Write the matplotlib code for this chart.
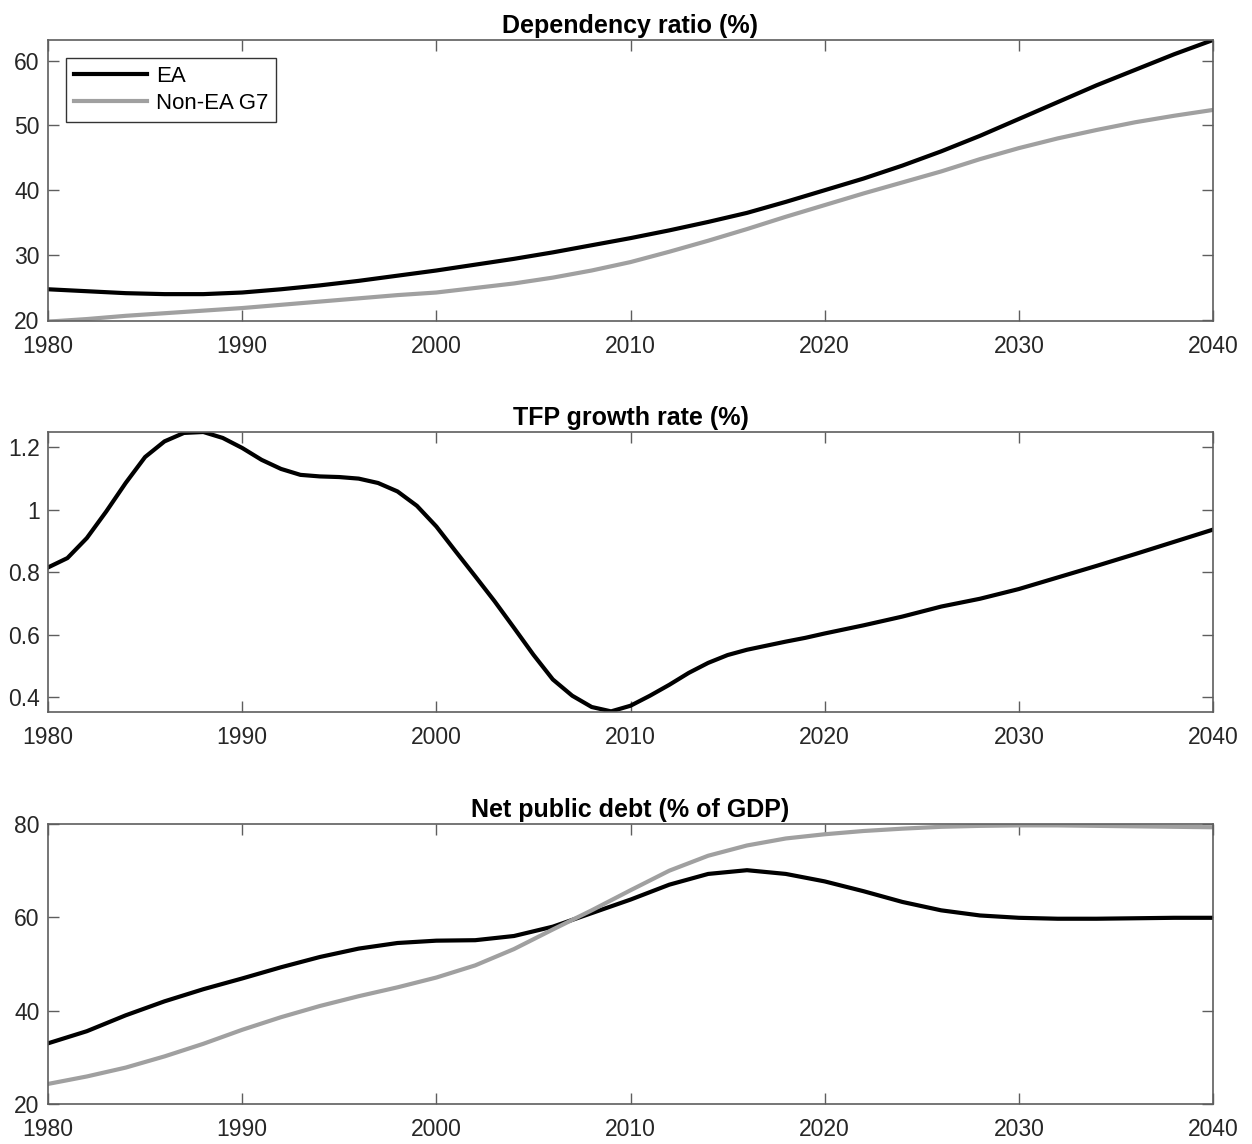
import matplotlib
matplotlib.use("Agg")
import matplotlib.pyplot as plt

plt.rcParams['font.family'] = ['Liberation Sans', 'DejaVu Sans']

# dependency ratio (%)
dep_years = list(range(1980, 2041, 2))
dep_ea = [24.7, 24.4, 24.1, 23.95, 23.95, 24.2, 24.7, 25.3, 26.0, 26.8,
          27.6, 28.5, 29.4, 30.4, 31.5, 32.6, 33.8, 35.1, 36.5, 38.2,
          40.0, 41.8, 43.8, 46.0, 48.4, 51.0, 53.6, 56.2, 58.6, 61.0, 63.2]
dep_non_ea = [19.7, 20.1, 20.6, 21.0, 21.4, 21.8, 22.3, 22.8, 23.3, 23.8,
              24.2, 24.9, 25.6, 26.5, 27.6, 28.9, 30.5, 32.2, 34.0, 35.9,
              37.7, 39.5, 41.2, 42.9, 44.8, 46.5, 48.0, 49.3, 50.5, 51.5, 52.4]

# TFP growth rate (%), EA only
tfp_years = list(range(1980, 2021)) + list(range(2022, 2041, 2))
tfp_ea = [0.815, 0.845, 0.909, 0.994, 1.085, 1.168, 1.218, 1.245, 1.248, 1.229,
          1.197, 1.159, 1.130, 1.111, 1.106, 1.104, 1.099, 1.085, 1.058, 1.012,
          0.946, 0.866, 0.787, 0.707, 0.622, 0.536, 0.457, 0.405, 0.369, 0.355,
          0.373, 0.405, 0.440, 0.478, 0.510, 0.535, 0.552, 0.565, 0.578, 0.590,
          0.604, 0.630, 0.658, 0.690, 0.715, 0.746, 0.783, 0.820, 0.858, 0.897, 0.936]

# net public debt (% of GDP)
debt_years = list(range(1980, 2041, 2))
debt_ea = [33.0, 35.6, 39.0, 42.0, 44.6, 46.9, 49.3, 51.5, 53.3, 54.5,
           55.0, 55.1, 56.0, 58.0, 60.9, 63.8, 67.0, 69.3, 70.1, 69.3,
           67.7, 65.6, 63.3, 61.5, 60.4, 59.9, 59.7, 59.7, 59.8, 59.9, 59.9]
debt_non_ea = [24.3, 25.9, 27.8, 30.2, 32.9, 35.9, 38.6, 41.0, 43.1, 45.0,
               47.1, 49.7, 53.2, 57.4, 61.5, 65.8, 70.0, 73.2, 75.4, 76.9,
               77.8, 78.5, 79.0, 79.4, 79.6, 79.7, 79.7, 79.6, 79.5, 79.4, 79.3]

BLACK = '#000000'
GREY = '#a0a0a0'
AX_COL = '#5e5e5e'
TXT_COL = '#262626'
LW = 3.0

fig = plt.figure(figsize=(12.52, 11.44), dpi=100)
left, width = 48 / 1252, (1213 - 48) / 1252
boxes = [(40, 321), (432, 712), (824, 1104)]
axes = []
for top, bottom in boxes:
    ax = fig.add_axes([left, 1 - bottom / 1144, width, (bottom - top) / 1144])
    axes.append(ax)


def style(ax, title):
    ax.set_xlim(1980, 2040)
    ax.set_xticks(range(1980, 2041, 10))
    ax.tick_params(direction='in', top=True, right=True, length=8, width=1.0,
                   color=AX_COL, labelcolor=TXT_COL, labelsize=16.5)
    ax.tick_params(axis='x', pad=10)
    ax.tick_params(axis='y', pad=6)
    for sp in ax.spines.values():
        sp.set_color(AX_COL)
        sp.set_linewidth(1.2)
    ax.set_title(title, fontsize=18, fontweight='bold', pad=5)


ax1, ax2, ax3 = axes

ax1.plot(dep_years, dep_ea, color=BLACK, lw=LW, label='EA')
ax1.plot(dep_years, dep_non_ea, color=GREY, lw=LW, label='Non-EA G7')
ax1.set_ylim(19.8, 63.2)
ax1.set_yticks([20, 30, 40, 50, 60])
style(ax1, 'Dependency ratio (%)')
leg = ax1.legend(loc='upper left', fontsize=16, handlelength=3.3, handletextpad=0.4,
                 borderaxespad=0.8, fancybox=False, framealpha=1, borderpad=0.35,
                 labelspacing=0.3)
leg.get_frame().set_edgecolor('#333333')
leg.get_frame().set_linewidth(1.0)

ax2.plot(tfp_years, tfp_ea, color=BLACK, lw=LW)
ax2.set_ylim(0.353, 1.248)
ax2.set_yticks([0.4, 0.6, 0.8, 1.0, 1.2])
ax2.set_yticklabels(['0.4', '0.6', '0.8', '1', '1.2'])
style(ax2, 'TFP growth rate (%)')

ax3.plot(debt_years, debt_ea, color=BLACK, lw=LW)
ax3.plot(debt_years, debt_non_ea, color=GREY, lw=LW)
ax3.set_ylim(20, 80)
ax3.set_yticks([20, 40, 60, 80])
style(ax3, 'Net public debt (% of GDP)')

fig.savefig('out.png', dpi=100)
